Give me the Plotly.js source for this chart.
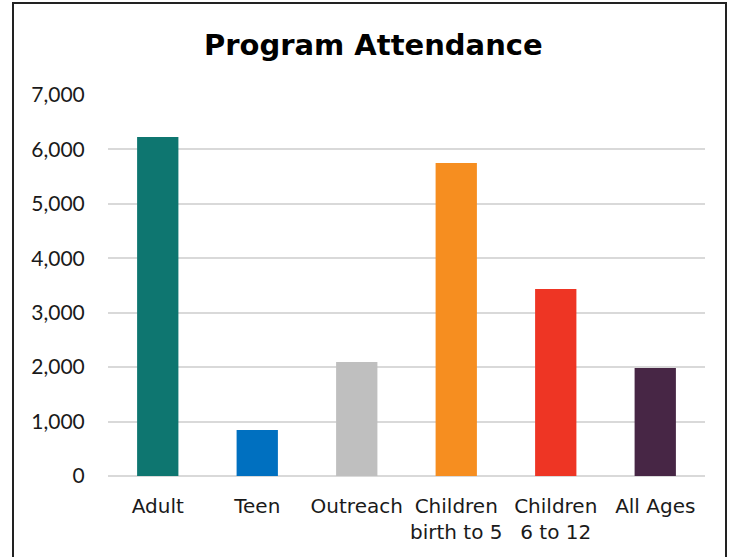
<!DOCTYPE html>
<html>
<head>
<meta charset="utf-8">
<script src="https://cdn.plot.ly/plotly-3.0.1.min.js"></script>
<style>
  html, body { margin: 0; padding: 0; background: #fff; overflow: hidden; }
  #frame { position: absolute; left: 12px; top: 2px; width: 715px; height: 620px; border: 2px solid #222; box-sizing: border-box; }
  #chart { position: absolute; left: 0; top: 0; width: 732px; height: 557px; }
</style>
</head>
<body>
<div id="frame"></div>
<div id="chart"></div>
<script>
const categories = ["Adult", "Teen", "Outreach", "Children<br>birth to 5", "Children<br>6 to 12", "All Ages"];
const attendance = [6230, 845, 2095, 5750, 3435, 1985];
const barColors = ["#0E7670", "#0070C0", "#BFBFBF", "#F68E20", "#EE3524", "#472645"];
const yTickVals = [0, 1000, 2000, 3000, 4000, 5000, 6000, 7000];
const yTickText = ["0", "1,000", "2,000", "3,000", "4,000", "5,000", "6,000", "7,000"];

const trace = {
  type: "bar",
  x: categories,
  y: attendance,
  marker: { color: barColors },
  hoverinfo: "x+y"
};

const layout = {
  width: 732,
  height: 557,
  paper_bgcolor: "rgba(0,0,0,0)",
  plot_bgcolor: "rgba(0,0,0,0)",
  margin: { l: 108, r: 27, t: 95, b: 81 },
  bargap: 0.585,
  showlegend: false,
  font: { family: "'DejaVu Sans', sans-serif", color: "#1a1a1a", size: 19 },
  title: {
    text: "Program Attendance",
    x: 0.51,
    xanchor: "center",
    y: 0.92,
    yanchor: "middle",
    font: { family: "'DejaVu Sans', sans-serif", size: 29, weight: "bold", color: "#000" }
  },
  xaxis: {
    type: "category",
    showgrid: false,
    showline: false,
    zeroline: false,
    ticks: "outside",
    ticklen: 12,
    tickcolor: "rgba(0,0,0,0)",
    tickfont: { family: "'DejaVu Sans', sans-serif", size: 20 }
  },
  yaxis: {
    range: [0, 7000],
    tickvals: yTickVals,
    ticktext: yTickText,
    showgrid: true,
    gridcolor: "#D9D9D9",
    gridwidth: 2,
    zeroline: true,
    zerolinecolor: "#D9D9D9",
    zerolinewidth: 2,
    showline: false,
    ticks: "outside",
    ticklen: 18,
    tickcolor: "rgba(0,0,0,0)",
    tickfont: { family: "Lato, 'DejaVu Sans', sans-serif", size: 21 }
  }
};

Plotly.newPlot("chart", [trace], layout, { displayModeBar: false, staticPlot: true });
</script>
</body>
</html>
